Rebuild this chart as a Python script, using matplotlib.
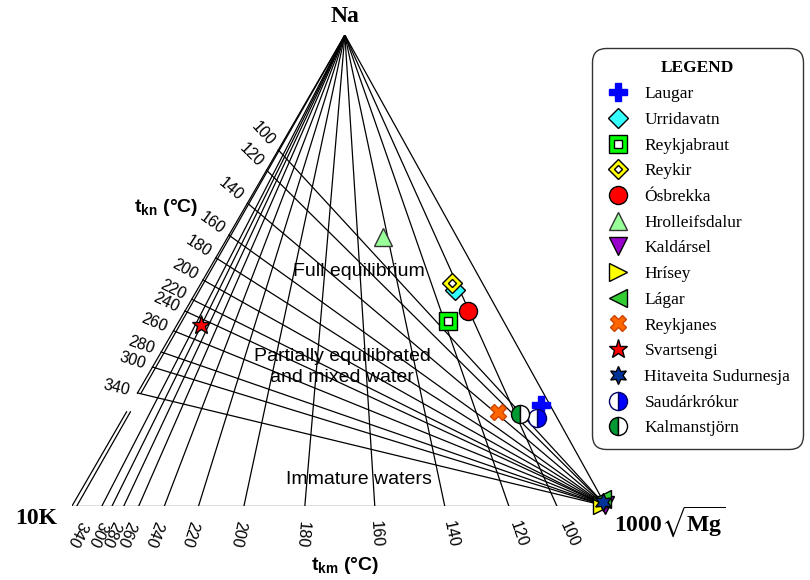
import numpy as np
import matplotlib.pyplot as plt
from matplotlib.legend_handler import HandlerTuple

plt.rcParams['font.family'] = 'Liberation Sans'
plt.rcParams['mathtext.fontset'] = 'custom'
plt.rcParams['mathtext.rm'] = 'Liberation Serif'
plt.rcParams['mathtext.bf'] = 'Liberation Serif:bold'
plt.rcParams['mathtext.sf'] = 'Liberation Sans:bold'
plt.rcParams['mathtext.fallback'] = 'stix'

# t_km isotherms: where each meets the K-Mg side (share of Mg)
km_temps = [100, 120, 140, 160, 180, 200, 220, 240, 260, 280, 300, 320, 340]
km_frac = [0.908, 0.818, 0.698, 0.567, 0.436, 0.322, 0.237, 0.173, 0.125, 0.097, 0.075, 0.056, 0.009]
km_label_frac = [0.908, 0.818, 0.698, 0.567, 0.436, 0.322, 0.237, 0.173, 0.125, 0.097, 0.075, 0.056, 0.038]
km_labels = ['100', '120', '140', '160', '180', '200', '220', '240', '260', '280', '300', '', '340']

# t_kn isotherms: where each meets the Na-K side (share of Na)
kn_temps = [100, 120, 140, 160, 180, 200, 220, 240, 260, 280, 300, 340]
kn_frac = [0.756, 0.713, 0.643, 0.575, 0.527, 0.480, 0.439, 0.414, 0.372, 0.327, 0.295, 0.240]

# samples: Na/1000, K/100, sqrt(Mg) in percent
sites = ['Laugar', 'Urridavatn', 'Reykjabraut', 'Reykir', 'Ósbrekka', 'Hrolleifsdalur',
         'Kaldársel', 'Hrísey', 'Lágar', 'Reykjanes', 'Svartsengi',
         'Hitaveita Sudurnesja', 'Saudárkrókur', 'Kalmanstjörn']
na = [21.4, 45.9, 39.3, 47.4, 41.4, 57.1, 0.2, 0.2, 1.5, 20.0, 38.4, 0.8, 18.7, 19.5]
k = [1.7, 5.9, 10.4, 5.7, 5.6, 13.9, 0.1, 0.6, 0.0, 10.5, 57.1, 0.2, 3.8, 6.6]
mg = [76.9, 48.2, 50.3, 46.9, 53.0, 29.0, 99.7, 99.2, 98.5, 69.5, 4.5, 99.0, 77.5, 73.9]

styles = {
    'Laugar': dict(marker='P', ms=13, mfc='#0000ff', mec='#0000ff'),
    'Urridavatn': dict(marker='D', ms=10, mfc='#33ffff', mec='black'),
    'Reykjabraut': dict(marker='s', ms=13, mfc='#00ff00', mec='black'),
    'Reykir': dict(marker='D', ms=10, mfc='#ffff00', mec='black'),
    'Ósbrekka': dict(marker='o', ms=13, mfc='#ff0000', mec='black'),
    'Hrolleifsdalur': dict(marker='^', ms=13, mfc='#99ff99', mec='#333333'),
    'Kaldársel': dict(marker='v', ms=13, mfc='#9900cc', mec='black'),
    'Hrísey': dict(marker='>', ms=13, mfc='#ffff00', mec='black'),
    'Lágar': dict(marker='<', ms=13, mfc='#33cc33', mec='black'),
    'Reykjanes': dict(marker='X', ms=12, mfc='#ff6600', mec='#cc4400'),
    'Svartsengi': dict(marker='*', ms=14, mfc='#ff0000', mec='black'),
    'Hitaveita Sudurnesja': dict(marker=(6, 1, 0), ms=13, mfc='#003399', mec='black'),
    'Saudárkrókur': dict(marker='o', ms=13, mfc='#0000ff', mec='#000066',
                         fillstyle='right', markerfacecoloralt='white'),
    'Kalmanstjörn': dict(marker='o', ms=13, mfc='#009933', mec='black',
                         fillstyle='left', markerfacecoloralt='white'),
}
# white cores drawn on top of some symbols
inner = {
    'Reykjabraut': dict(marker='s', ms=6, mfc='white', mec='black'),
    'Reykir': dict(marker='D', ms=4, mfc='white', mec='black'),
}

NA_X = 0.511          # horizontal position of the Na apex
PX, PY = 534, 471     # axes size in pixels


def tern_xy(a, b, c):
    s = a + b + c
    return (a * NA_X + c) / s, a / s


fig = plt.figure(figsize=(8.1, 5.8), dpi=100)
ax = fig.add_axes([72 / 810, 74 / 580, PX / 810, PY / 580])
ax.set_xlim(0, 1)
ax.set_ylim(0, 1)
ax.axis('off')

lc = dict(color='black', lw=0.9, zorder=1)
apex = tern_xy(1, 0, 0)
kv = tern_xy(0, 1, 0)
mv = tern_xy(0, 0, 1)
gap = (0.20, 0.24)


def line_with_gap(p0, p1):
    # p0 on the base (y=0), p1 at the apex; skip the band under the 340 label
    for lo, hi in [(0, gap[0]), (gap[1], 1)]:
        xs = [p0[0] + (p1[0] - p0[0]) * lo, p0[0] + (p1[0] - p0[0]) * hi]
        ys = [lo, hi]
        ax.plot(xs, ys, **lc)


# triangle sides
ax.plot([kv[0], mv[0]], [kv[1], mv[1]], **lc)
ax.plot([apex[0], mv[0]], [apex[1], mv[1]], **lc)
line_with_gap(kv, apex)

# t_km lines from the Na apex
for i, f in enumerate(km_frac):
    b = tern_xy(0, 1 - f, f)
    if i == len(km_frac) - 1:
        line_with_gap(b, apex)
    else:
        ax.plot([apex[0], b[0]], [apex[1], b[1]], **lc)
    lb = tern_xy(0, 1 - km_label_frac[i], km_label_frac[i])
    dx, dy = lb[0] - apex[0], lb[1] - apex[1]
    ang = np.degrees(np.arctan2(dy * PY, dx * PX))
    ax.text(lb[0] + 0.06 * dx, lb[1] + 0.06 * dy, km_labels[i], rotation=ang,
            rotation_mode='anchor', ha='center', va='center', fontsize=11.5)

# t_kn lines from the Mg corner
for t, temp in zip(kn_frac, kn_temps):
    e = tern_xy(t, 1 - t, 0)
    ax.plot([mv[0], e[0]], [mv[1], e[1]], **lc)
    dx, dy = e[0] - mv[0], e[1] - mv[1]
    ang = np.degrees(np.arctan2(-dy * PY, -dx * PX))
    ax.text(e[0] + 0.045 * dx, e[1] + 0.045 * dy, str(temp), rotation=ang,
            rotation_mode='anchor', ha='center', va='center', fontsize=11.5)

# samples
handles = []
for s, a, b, c in zip(sites, na, k, mg):
    x, y = tern_xy(a, b, c)
    h, = ax.plot(x, y, ls='none', mew=1, zorder=5, clip_on=False, **styles[s])
    if s in inner:
        h2, = ax.plot(x, y, ls='none', mew=1, zorder=6, clip_on=False, **inner[s])
        h = (h, h2)
    handles.append(h)

# corner and axis titles
fig.text(345 / 810, 1 - 17 / 580, 'Na', family='Liberation Serif', weight='bold',
         fontsize=17, ha='center', va='center')
fig.text(36 / 810, 1 - 518 / 580, '10K', family='Liberation Serif', weight='bold',
         fontsize=17, ha='center', va='center')
fig.text(670 / 810, 1 - 522 / 580, r'$\mathbf{1000}\sqrt{\mathbf{Mg}}$', fontsize=17,
         ha='center', va='center')
fig.text(166 / 810, 1 - 207 / 580, r'$\mathsf{t_{kn}}$ (°C)', weight='bold',
         fontsize=14, ha='center', va='center')
fig.text(345 / 810, 1 - 565 / 580, r'$\mathsf{t_{km}}$ (°C)', weight='bold',
         fontsize=14, ha='center', va='center')

# field names
fig.text(359 / 810, 1 - 272 / 580, 'Full equilibrium', fontsize=14, ha='center', va='center')
fig.text(342 / 810, 1 - 367 / 580, 'Partially equilibrated\nand mixed water', fontsize=14,
         ha='center', va='center', linespacing=1.35)
fig.text(359 / 810, 1 - 479 / 580, 'Immature waters', fontsize=14, ha='center', va='center')

leg = fig.legend(handles, sites, loc='upper left', bbox_to_anchor=(592 / 810, 1 - 48 / 580),
                 title='LEGEND', prop={'family': 'Liberation Serif', 'size': 12.5},
                 title_fontproperties={'family': 'Liberation Serif', 'weight': 'bold',
                                       'size': 12.5},
                 handler_map={tuple: HandlerTuple(ndivide=1)},
                 frameon=True, fancybox=True, framealpha=1, edgecolor='#333333',
                 labelspacing=0.55, handlelength=1.5, handletextpad=0.8, borderpad=0.72,
                 borderaxespad=0)
leg.get_frame().set_linewidth(1.0)
leg.get_frame().set_boxstyle('round', pad=0, rounding_size=0.8)

fig.savefig('out.png', dpi=100)
